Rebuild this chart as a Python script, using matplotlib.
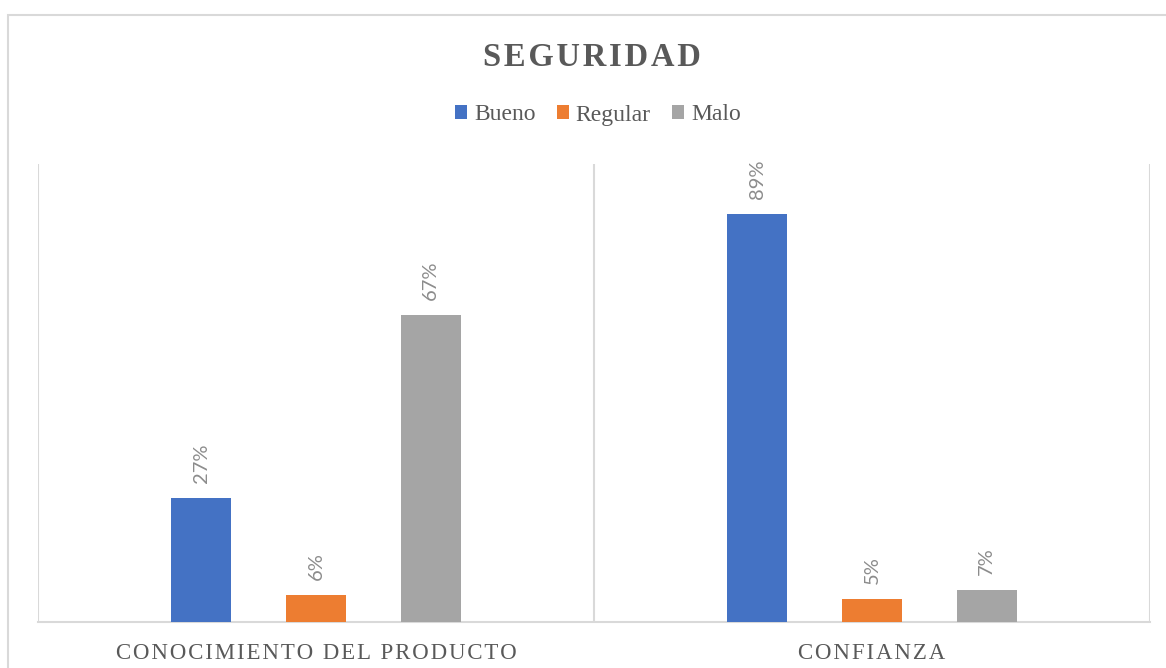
import matplotlib.pyplot as plt
from matplotlib.patches import Rectangle
import numpy as np

# ------------------------------------------------------------
# Data
# ------------------------------------------------------------
categories = ["CONOCIMIENTO DEL PRODUCTO", "CONFIANZA"]
series_names = ["Bueno", "Regular", "Malo"]
bueno = [27, 89]
regular = [6, 5]
malo = [67, 7]
colors = ["#4472C4", "#ED7D31", "#A5A5A5"]

W, H = 1166, 668
fig = plt.figure(figsize=(W / 100, H / 100), dpi=100)

# outer chart frame (only left and top visible in the reference)
fig.patches.append(Rectangle((8 / W, -0.05), 1.2, 1 - 15 / H + 0.05,
                             transform=fig.transFigure, fill=False,
                             edgecolor="#d9d9d9", linewidth=1.5))

ax = fig.add_axes([38 / W, (H - 622) / H, (1150 - 38) / W, (622 - 164) / H])

x = np.arange(len(categories))
bar_w = 0.108
step = 0.206
values = [bueno, regular, malo]
for i, (name, vals, col) in enumerate(zip(series_names, values, colors)):
    xs = x + (i - 1) * step
    bars = ax.bar(xs, vals, width=bar_w, color=col, label=name, zorder=3)
    for b, v in zip(bars, vals):
        ax.annotate(f"{v}%", (b.get_x() + b.get_width() / 2, v),
                    xytext=(0, 15), textcoords="offset pixels",
                    rotation=90, ha="center", va="bottom",
                    fontsize=14.5, color="#8c8c8c", family=["Lato", "DejaVu Sans"])

ax.set_xlim(-0.5, len(categories) - 0.5)
ax.set_ylim(0, 100)
ax.set_yticks([])
ax.set_xticks([])

# category separators
for xb in np.arange(-0.5, len(categories), 1.0):
    ax.axvline(xb, color="#d9d9d9", linewidth=1.5, zorder=1)

for s in ["top", "left", "right"]:
    ax.spines[s].set_visible(False)
ax.spines["bottom"].set_color("#d9d9d9")
ax.spines["bottom"].set_linewidth(1.5)

# letter-spaced category labels
for xi, cat in zip(x, categories):
    spaced = "\u200a".join(cat)
    ax.text(xi, -0.045, spaced, transform=ax.get_xaxis_transform(),
            ha="center", va="top", fontsize=16.5, color="#595959",
            family=["Liberation Serif", "DejaVu Serif"])

fig.text(592 / W, 1 - 58 / H, "\u200a".join("SEGURIDAD"), ha="center", va="center",
         fontsize=23.5, fontweight="bold", color="#595959",
         family=["Liberation Serif", "DejaVu Serif"])

leg = fig.legend(loc="center", bbox_to_anchor=(598 / W, 1 - 115 / H), ncol=3,
                 frameon=False, handlelength=0.5, handleheight=0.5,
                 handletextpad=0.3, columnspacing=0.9,
                 prop={"family": "Liberation Serif", "size": 17})
for t in leg.get_texts():
    t.set_color("#595959")

fig.savefig("out.png", dpi=100)
